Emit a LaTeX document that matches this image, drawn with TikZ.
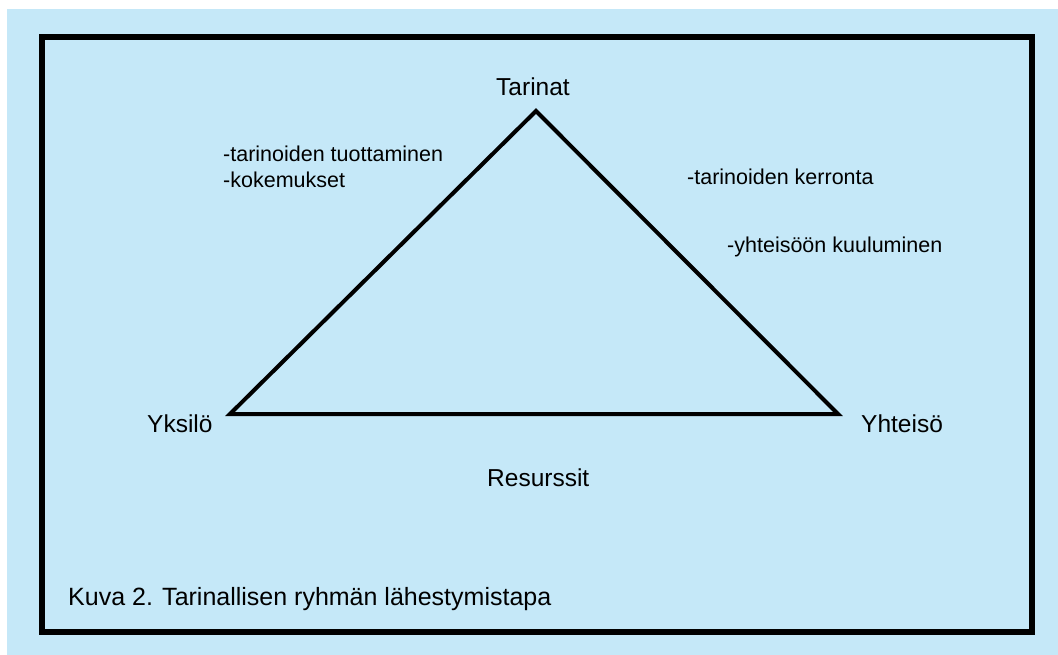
\documentclass[tikz,border=0pt]{standalone}
\usepackage{fontspec}
\setmainfont{Liberation Sans}
\definecolor{paleblue}{RGB}{197,232,248}
\tikzset{
    lbl/.style={anchor=base west,inner sep=0pt,font=\fontsize{21.5}{26}\selectfont},
    biglbl/.style={lbl,font=\fontsize{24.5}{28}\selectfont},
    edge/.style={line width=4pt,line join=miter}
}
\begin{document}
\begin{tikzpicture}[x=1pt,y=-1pt]
        \useasboundingbox (0,0) rectangle (1058,655);
        \fill[white] (0,0) rectangle (1058,655);
        \fill[paleblue] (7,9) rectangle (1058,655);
        \draw[line width=6pt] (42,37) rectangle (1032,632);
        % corners of the triangle
        \coordinate (top) at (536,111);
        \coordinate (left) at (230,414);
        \coordinate (right) at (838,414);
        \draw[edge] (left)--(top)--(right)--cycle;
        \node[biglbl] (tarinat) at (496,96) {Tarinat};
        \node[biglbl] (yksilo) at (147,432) {Yksilö};
        \node[biglbl] (yhteiso) at (861,432) {Yhteisö};
        \node[biglbl] (resurssit) at (487,486) {Resurssit};
        \node[lbl,align=left] (tuotto) at (223,188) {-tarinoiden tuottaminen\\-kokemukset};
        \node[lbl] (kerronta) at (687,185) {-tarinoiden kerronta};
        \node[lbl] (kuulu) at (727,253) {-yhteisöön kuuluminen};
        \node[lbl,font=\fontsize{25}{30}\selectfont] (kuva) at (68,605) {Kuva 2. Tarinallisen ryhmän lähestymistapa};
\end{tikzpicture}
\end{document}
